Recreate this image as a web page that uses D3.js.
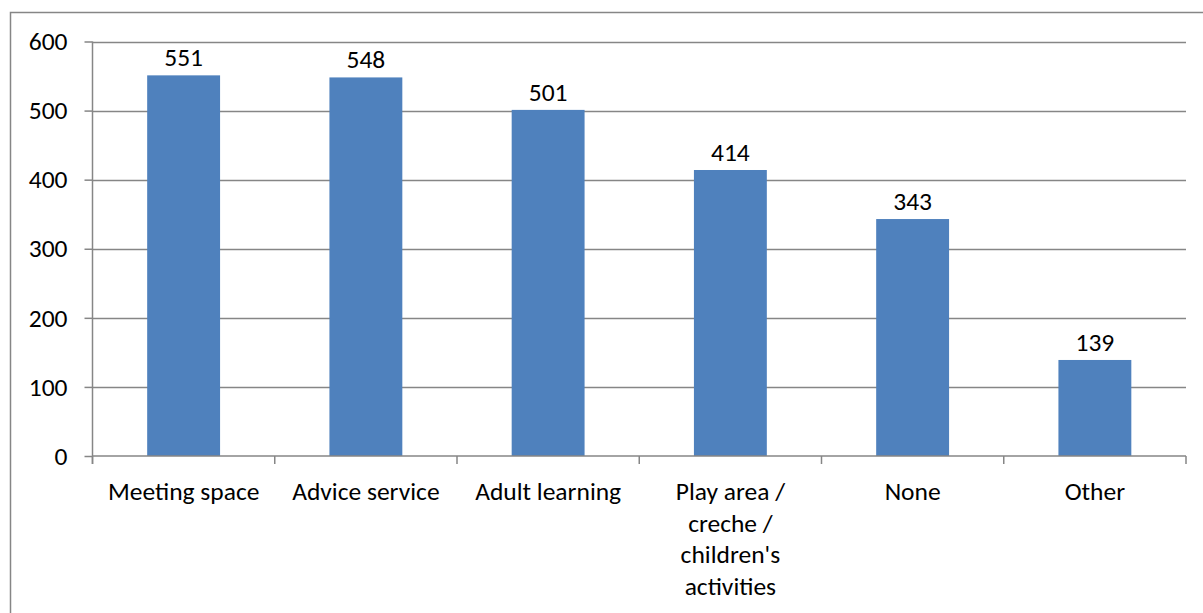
<!DOCTYPE html>
<html>
<head>
<meta charset="utf-8">
<script src="https://cdn.jsdelivr.net/npm/d3@7"></script>
<style>
  html, body { margin: 0; padding: 0; background: #fff; }
  svg { display: block; }
  text { font-family: Carlito, Lato, "Open Sans", sans-serif; fill: #000; }
</style>
</head>
<body>
<svg id="chart" width="1203" height="613"></svg>
<script>
// Facilities people would like to see offered
const categories = [
  ["Meeting space"],
  ["Advice service"],
  ["Adult learning"],
  ["Play area /", "creche /", "children's", "activities"],
  ["None"],
  ["Other"]
];
const counts = [551, 548, 501, 414, 343, 139];
const yTicks = [0, 100, 200, 300, 400, 500, 600];

const svg = d3.select("#chart");
const W = 1203, H = 613;
const plot = { left: 92.5, right: 1186, top: 41.5, bottom: 456 };
const gridColor = "#868686";
const fontSize = 25.5;

// outer chart frame
svg.append("rect")
  .attr("x", 10.5).attr("y", 12.5)
  .attr("width", W + 20).attr("height", H + 20)
  .attr("fill", "none").attr("stroke", gridColor).attr("stroke-width", 1.5);

const x = d3.scaleBand()
  .domain(d3.range(categories.length))
  .range([plot.left, plot.right])
  .paddingInner(0.6)
  .paddingOuter(0.3);

const y = d3.scaleLinear()
  .domain([0, 600])
  .range([plot.bottom, plot.top]);

// horizontal gridlines
svg.append("g")
  .selectAll("line")
  .data(yTicks.filter(d => d > 0))
  .join("line")
  .attr("x1", plot.left).attr("x2", plot.right)
  .attr("y1", d => Math.round(y(d)) + 0.5).attr("y2", d => Math.round(y(d)) + 0.5)
  .attr("stroke", gridColor).attr("stroke-width", 1.5);

// bars
svg.append("g")
  .selectAll("rect")
  .data(counts)
  .join("rect")
  .attr("x", (d, i) => x(i))
  .attr("width", x.bandwidth())
  .attr("y", d => y(d))
  .attr("height", d => y(0) - y(d))
  .attr("fill", "#4F81BD");

// value labels
svg.append("g")
  .selectAll("text")
  .data(counts)
  .join("text")
  .attr("x", (d, i) => x(i) + x.bandwidth() / 2)
  .attr("y", d => y(d) - 9)
  .attr("text-anchor", "middle")
  .attr("font-size", fontSize)
  .text(d => d);

// y axis
const yAxis = d3.axisLeft(y).tickValues(yTicks).tickSize(8).tickPadding(17);
const gy = svg.append("g")
  .attr("transform", `translate(${plot.left},0)`)
  .call(yAxis);
gy.select(".domain").attr("stroke", gridColor).attr("stroke-width", 1.5)
  .attr("d", `M0,${plot.top}V${plot.bottom + 8}`);
gy.selectAll(".tick line").attr("stroke", gridColor).attr("stroke-width", 1.5);
gy.selectAll(".tick text")
  .attr("font-size", fontSize)
  .attr("font-family", "Carlito, Lato, 'Open Sans', sans-serif")
  .attr("fill", "#000");

// x axis baseline and category boundary ticks
const boundaries = d3.range(categories.length + 1).map(i => plot.left + i * (plot.right - plot.left) / categories.length);
svg.append("line")
  .attr("x1", plot.left).attr("x2", plot.right)
  .attr("y1", plot.bottom).attr("y2", plot.bottom)
  .attr("stroke", gridColor).attr("stroke-width", 1.5);
svg.append("g")
  .selectAll("line")
  .data(boundaries)
  .join("line")
  .attr("x1", d => d).attr("x2", d => d)
  .attr("y1", plot.bottom).attr("y2", plot.bottom + 8)
  .attr("stroke", gridColor).attr("stroke-width", 1.5);

// category labels
const lineH = 31.7;
svg.append("g")
  .selectAll("text")
  .data(categories)
  .join("text")
  .attr("text-anchor", "middle")
  .attr("font-size", fontSize)
  .attr("transform", (d, i) => `translate(${x(i) + x.bandwidth() / 2},500)`)
  .selectAll("tspan")
  .data(d => d)
  .join("tspan")
  .attr("x", 0)
  .attr("y", (d, j) => j * lineH)
  .text(d => d);
</script>
</body>
</html>
